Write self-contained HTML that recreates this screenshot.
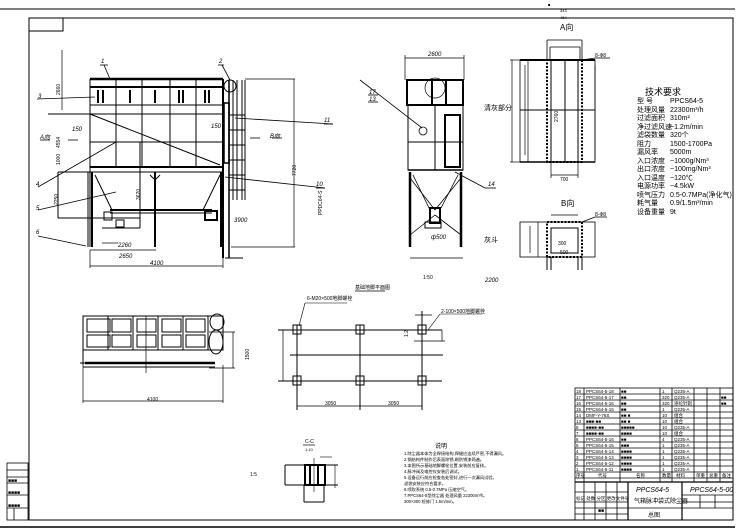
<!DOCTYPE html>
<html><head><meta charset="utf-8"><style>
html,body{margin:0;padding:0;background:#fff}
svg{display:block}
text{font-family:"Liberation Sans","Noto Sans CJK SC",sans-serif;fill:#000}
</style></head><body>
<svg width="749" height="530" viewBox="0 0 749 530" xmlns="http://www.w3.org/2000/svg" stroke="#000" fill="none" stroke-width="1">
<!-- frame -->
<line x1="0" y1="9" x2="735" y2="9"/>
<rect x="29" y="18" width="704" height="502"/>
<line x1="0" y1="527" x2="735" y2="527" stroke-width="1.5"/>
<rect x="29" y="18" width="34" height="13"/>
<g stroke-width="0.8">
<rect x="7" y="463" width="21" height="57"/>
<line x1="7" y1="470" x2="28" y2="470"/><line x1="7" y1="477" x2="28" y2="477"/>
<line x1="7" y1="483" x2="28" y2="483"/><line x1="7" y1="495" x2="28" y2="495"/>
<line x1="7" y1="508" x2="28" y2="508"/><line x1="14" y1="508" x2="14" y2="520"/>
</g>
<text x="8" y="482" font-size="5" stroke="none">■■■</text>
<text x="8" y="494" font-size="5" stroke="none">■■■■</text>
<text x="8" y="507" font-size="5" stroke="none">■■■■</text>
<text x="548" y="6" font-size="4" stroke="none">■</text>
<text x="560" y="12" font-size="4" stroke="none">343</text>
<text x="560" y="19" font-size="4" stroke="none">464</text>

<!-- MAIN ELEVATION -->
<g stroke-width="1">
<line x1="90" y1="79" x2="223" y2="79" stroke-width="2.5"/>
<line x1="90" y1="87" x2="223" y2="87" stroke-width="2"/>
<line x1="90" y1="79" x2="90" y2="247"/>
<line x1="223" y1="79" x2="223" y2="258" stroke-width="2"/>
<line x1="90" y1="105" x2="223" y2="105"/>
<line x1="48" y1="114" x2="223" y2="114"/>
<line x1="90" y1="167" x2="223" y2="167" stroke-width="2"/>
<line x1="90" y1="142" x2="223" y2="142"/>
<line x1="58" y1="172" x2="223" y2="172"/>
<line x1="58" y1="172" x2="58" y2="218"/>
<line x1="58" y1="218" x2="140" y2="218"/>
<line x1="116" y1="79" x2="116" y2="167"/><line x1="142" y1="79" x2="142" y2="167"/>
<line x1="170" y1="79" x2="170" y2="167"/><line x1="196" y1="79" x2="196" y2="167"/>
<line x1="90" y1="114" x2="220" y2="165"/>
<line x1="92" y1="172" x2="92" y2="247" stroke-width="2"/><line x1="88" y1="172" x2="88" y2="247"/>
<line x1="155" y1="172" x2="155" y2="247" stroke-width="2"/>
<line x1="221" y1="172" x2="221" y2="247" stroke-width="2"/>
<line x1="95" y1="175" x2="112" y2="210"/><line x1="220" y1="175" x2="203" y2="210"/>
<line x1="150" y1="175" x2="155" y2="180"/><line x1="160" y1="175" x2="155" y2="180"/>
<line x1="110" y1="210" x2="212" y2="210" stroke-width="2"/>
<line x1="110" y1="213" x2="212" y2="213"/>
<rect x="104" y="212" width="8" height="8"/><rect x="116" y="220" width="8" height="7"/>
<rect x="205" y="211" width="12" height="9" stroke-width="2"/>
<line x1="140" y1="142" x2="140" y2="228"/>
<line x1="102" y1="228" x2="140" y2="228"/>
<!-- filters -->
<g stroke-width="2">
<line x1="98" y1="90" x2="98" y2="103"/><line x1="103" y1="90" x2="103" y2="103"/>
<line x1="130" y1="90" x2="130" y2="103"/>
<line x1="155" y1="90" x2="155" y2="103"/>
<line x1="179" y1="90" x2="179" y2="103"/><line x1="183" y1="90" x2="183" y2="103"/>
<line x1="205" y1="90" x2="205" y2="103"/><line x1="209" y1="90" x2="209" y2="103"/>
</g>
<circle cx="230" cy="86" r="6"/>
<!-- ladder -->
<rect x="224" y="103" width="5" height="60" stroke-width="1.5"/>
<line x1="229" y1="80" x2="229" y2="258" stroke-width="1.5"/>
<line x1="233" y1="80" x2="233" y2="200"/><line x1="237" y1="80" x2="237" y2="200"/>
<line x1="242" y1="80" x2="242" y2="200"/>
<line x1="245" y1="80" x2="245" y2="200"/>
<line x1="229" y1="115" x2="245" y2="115"/><line x1="229" y1="130" x2="245" y2="130"/>
<line x1="229" y1="145" x2="245" y2="145"/><line x1="229" y1="160" x2="245" y2="160"/>
<line x1="229" y1="175" x2="245" y2="175"/><line x1="229" y1="190" x2="245" y2="190"/>
<line x1="225" y1="258" x2="243" y2="258"/>
<!-- dims -->
<line x1="245" y1="79" x2="295" y2="79" stroke-width="0.7"/>
<line x1="231" y1="247" x2="295" y2="247" stroke-width="0.7"/>
<line x1="294" y1="79" x2="294" y2="247" stroke-width="0.7"/>
<line x1="62" y1="50" x2="62" y2="110" stroke-width="0.7"/>
<line x1="90" y1="250" x2="156" y2="250" stroke-width="0.7"/>
<line x1="90" y1="266" x2="223" y2="266" stroke-width="0.7"/>
<line x1="90" y1="250" x2="90" y2="268" stroke-width="0.7"/>
<line x1="223" y1="250" x2="223" y2="268" stroke-width="0.7"/>
<line x1="102" y1="243" x2="118" y2="243" stroke-width="0.7"/>
<!-- leaders -->
<g stroke-width="0.8">
<line x1="100" y1="65" x2="108" y2="65"/><line x1="104" y1="65" x2="110" y2="79"/>
<line x1="218" y1="65" x2="224" y2="65"/><line x1="222" y1="65" x2="230" y2="80"/>
<line x1="37" y1="99" x2="95" y2="97"/>
<line x1="235" y1="118" x2="333" y2="124"/><line x1="324" y1="124" x2="333" y2="124"/>
<line x1="38" y1="187" x2="116" y2="142"/>
<line x1="38" y1="210" x2="116" y2="192"/>
<line x1="38" y1="236" x2="86" y2="246"/>
<line x1="225" y1="177" x2="325" y2="188"/><line x1="316" y1="188" x2="325" y2="188"/>
<line x1="40" y1="140" x2="50" y2="140"/><line x1="68" y1="140" x2="78" y2="140"/>
<line x1="250" y1="138" x2="260" y2="138"/><line x1="272" y1="138" x2="282" y2="138"/>
</g>
</g>
<g font-size="6" stroke="none" font-style="italic">
<text x="101" y="63">1</text><text x="219" y="63">2</text><text x="38" y="98">3</text>
<text x="36" y="186">4</text><text x="36" y="210">5</text><text x="36" y="234">6</text>
<text x="324" y="122">11</text><text x="316" y="186">10</text>
<text x="40" y="139">A向</text><text x="270" y="138">B向</text>
<text x="72" y="131">150</text><text x="211" y="128">150</text>
<text x="119" y="258">2650</text><text x="150" y="265">4100</text>
<text x="234" y="222">3900</text><text x="118" y="247">2260</text>
</g>
<g font-size="5" stroke="none">
<text transform="translate(60,95) rotate(-90)">2660</text>
<text transform="translate(60,148) rotate(-90)">4554</text>
<text transform="translate(60,165) rotate(-90)">1000</text>
<text transform="translate(58,205) rotate(-90)">2250</text>
<text transform="translate(140,200) rotate(-90)">3620</text>
<text transform="translate(296,176) rotate(-90)">7720</text>
<text transform="translate(322,215) rotate(-90)">PPDC64-S</text>
</g>

<!-- SIDE VIEW -->
<g>
<line x1="405" y1="58" x2="464" y2="58" stroke-width="0.7"/>
<line x1="405" y1="55" x2="405" y2="80" stroke-width="0.7"/>
<line x1="464" y1="55" x2="464" y2="80" stroke-width="0.7"/>
<rect x="407" y="80" width="56" height="25" stroke-width="2"/>
<circle cx="435" cy="88" r="10" stroke-width="0.7"/>
<line x1="432" y1="80" x2="432" y2="105" stroke-width="2"/><line x1="446" y1="80" x2="446" y2="105" stroke-width="2"/>
<rect x="408" y="105" width="55" height="65"/>
<line x1="408" y1="142" x2="463" y2="142"/>
<line x1="435" y1="105" x2="435" y2="170"/>
<rect x="445" y="115" width="15" height="52" stroke-width="2"/>
<line x1="408" y1="170" x2="463" y2="170" stroke-width="1.5"/>
<line x1="410" y1="172" x2="410" y2="247" stroke-width="2.5"/>
<line x1="461" y1="172" x2="461" y2="247" stroke-width="2.5"/>
<line x1="410" y1="178" x2="435" y2="210" stroke-width="0.8"/><line x1="461" y1="178" x2="435" y2="210" stroke-width="0.8"/>
<line x1="410" y1="235" x2="435" y2="215" stroke-width="0.8"/><line x1="461" y1="235" x2="435" y2="215" stroke-width="0.8"/>
<line x1="413" y1="175" x2="430" y2="210" stroke-width="0.8"/><line x1="458" y1="175" x2="440" y2="210" stroke-width="0.8"/>
<rect x="430" y="208" width="10" height="15" stroke-width="2"/>
<rect x="425" y="222" width="16" height="6"/>
<line x1="410" y1="258" x2="463" y2="258" stroke-width="0.7"/>
<line x1="360" y1="80" x2="422" y2="128" stroke-width="0.8"/>
<circle cx="423" cy="131" r="4" stroke-width="0.8"/>
<line x1="455" y1="172" x2="485" y2="188" stroke-width="0.8"/><line x1="485" y1="188" x2="496" y2="188" stroke-width="0.8"/>
<line x1="368" y1="95" x2="378" y2="95" stroke-width="0.8"/><line x1="368" y1="102" x2="378" y2="102" stroke-width="0.8"/>
</g>
<g font-size="6" stroke="none" font-style="italic">
<text x="428" y="56">2600</text><text x="369" y="94">17</text><text x="369" y="101">13</text>
<text x="488" y="186">14</text><text x="431" y="239">ф500</text><text x="485" y="282">2200</text>
</g>
<text x="484" y="110" font-size="7" stroke="none">清灰部分</text>
<text x="484" y="242" font-size="7" stroke="none">灰斗</text>

<!-- PLAN A -->
<g>
<text x="560" y="30" font-size="8" stroke="none">A向</text>
<line x1="547" y1="40" x2="582" y2="40" stroke-width="0.8"/>
<line x1="547" y1="40" x2="547" y2="60" stroke-width="0.8"/><line x1="582" y1="40" x2="582" y2="60" stroke-width="0.8"/>
<line x1="550" y1="47" x2="580" y2="47" stroke-width="0.8"/>
<line x1="550" y1="47" x2="550" y2="60" stroke-width="0.8"/><line x1="580" y1="47" x2="580" y2="60" stroke-width="0.8"/>
<rect x="520" y="60" width="75" height="102" stroke-width="0.8"/>
<line x1="520" y1="60" x2="595" y2="60" stroke-width="2"/>
<line x1="520" y1="162" x2="595" y2="162" stroke-width="1.5"/>
<rect x="547" y="60" width="35" height="102" stroke-width="2" stroke-dasharray="2,1.5"/>
<rect x="551" y="60" width="27" height="102"/>
<line x1="565" y1="60" x2="565" y2="162"/><line x1="520" y1="110" x2="595" y2="110"/>
<line x1="528" y1="60" x2="528" y2="162" stroke-width="0.7"/>
<line x1="525" y1="65" x2="525" y2="155" stroke-width="0.7"/>
<line x1="595" y1="65" x2="595" y2="160" stroke-width="0.7"/>
<line x1="520" y1="60" x2="510" y2="60" stroke-width="0.7"/><line x1="520" y1="162" x2="510" y2="162" stroke-width="0.7"/>
<line x1="512" y1="60" x2="512" y2="162" stroke-width="0.7"/>
<line x1="582" y1="60" x2="595" y2="58" stroke-width="0.8"/><line x1="595" y1="58" x2="610" y2="58" stroke-width="0.8"/>
<line x1="551" y1="175" x2="578" y2="175" stroke-width="0.8"/>
<line x1="551" y1="162" x2="551" y2="178" stroke-width="0.7"/><line x1="578" y1="162" x2="578" y2="178" stroke-width="0.7"/>
</g>
<g font-size="5" stroke="none">
<text x="595" y="57">8-Ф8</text><text x="560" y="181">700</text>
<text transform="translate(558,122) rotate(-90)">2760</text>
</g>
<!-- PLAN B -->
<g>
<text x="561" y="206" font-size="8" stroke="none">B向</text>
<line x1="551" y1="215" x2="578" y2="215" stroke-width="0.8"/>
<rect x="520" y="222" width="75" height="35" stroke-width="0.8"/>
<rect x="547" y="222" width="35" height="35" stroke-width="2" stroke-dasharray="2,1.5"/>
<rect x="551" y="228" width="27" height="25"/>
<line x1="551" y1="257" x2="551" y2="270"/><line x1="578" y1="257" x2="578" y2="270"/>
<line x1="547" y1="257" x2="547" y2="270"/><line x1="582" y1="257" x2="582" y2="270"/>
<line x1="538" y1="222" x2="538" y2="257" stroke-width="0.7"/>
<line x1="530" y1="226" x2="530" y2="253" stroke-width="0.7"/>
<line x1="582" y1="222" x2="595" y2="217" stroke-width="0.8"/><line x1="595" y1="217" x2="607" y2="217" stroke-width="0.8"/>
</g>
<g font-size="5" stroke="none"><text x="558" y="245">300</text><text x="560" y="254">500</text><text x="595" y="216">8-Ф8</text></g>

<!-- TECH -->
<g stroke="none" font-size="7">
<text x="645" y="95" font-size="9">技术要求</text>
<text x="637" y="103">型 号</text><text x="670" y="103">PPCS64-5</text>
<text x="637" y="112">处理风量</text><text x="670" y="112">22300m³/h</text>
<text x="637" y="120">过滤面积</text><text x="670" y="120">310m²</text>
<text x="637" y="129">净过滤风速</text><text x="670" y="129">~1.2m/min</text>
<text x="637" y="137">滤袋数量</text><text x="670" y="137">320个</text>
<text x="637" y="146">阻力</text><text x="670" y="146">1500-1700Pa</text>
<text x="637" y="154">漏风率</text><text x="670" y="154">5000m</text>
<text x="637" y="163">入口浓度</text><text x="670" y="163">~1000g/Nm³</text>
<text x="637" y="171">出口浓度</text><text x="670" y="171">~100mg/Nm³</text>
<text x="637" y="180">入口温度</text><text x="670" y="180">~120℃</text>
<text x="637" y="188">电源功率</text><text x="670" y="188">~4.5kW</text>
<text x="637" y="197">喷气压力</text><text x="670" y="197">0.5-0.7MPa(净化气)</text>
<text x="637" y="205">耗气量</text><text x="670" y="205">0.9/1.5m³/min</text>
<text x="637" y="214">设备重量</text><text x="670" y="214">9t</text>
</g>

<!-- BOTTOM LEFT PLAN -->
<g>
<rect x="83" y="316" width="140" height="34"/>
<g stroke-width="1">
<rect x="87" y="319" width="23" height="13"/><rect x="112" y="319" width="19" height="13"/><rect x="137" y="319" width="19" height="13"/><rect x="162" y="319" width="19" height="13"/><rect x="186" y="319" width="19" height="13"/>
<rect x="87" y="335" width="23" height="12"/><rect x="112" y="335" width="19" height="12"/><rect x="137" y="335" width="19" height="12"/><rect x="162" y="335" width="19" height="12"/><rect x="186" y="335" width="19" height="12"/>
</g>
<line x1="108" y1="316" x2="108" y2="350"/><line x1="133" y1="316" x2="133" y2="350"/><line x1="158" y1="316" x2="158" y2="350"/><line x1="183" y1="316" x2="183" y2="350"/><line x1="208" y1="316" x2="208" y2="350"/>
<ellipse cx="217" cy="322" rx="7" ry="8"/>
<ellipse cx="216" cy="342" rx="7" ry="12"/>
<line x1="83" y1="350" x2="83" y2="365"/>
<line x1="85" y1="363" x2="215" y2="363" stroke-width="2.5"/>
<line x1="80" y1="363" x2="215" y2="363"/>
<line x1="83" y1="367" x2="215" y2="367"/>
<line x1="146" y1="316" x2="146" y2="373" stroke-width="0.7"/>
<line x1="209" y1="332" x2="235" y2="332" stroke-width="0.7"/><line x1="209" y1="368" x2="235" y2="368" stroke-width="0.7"/>
<line x1="233" y1="332" x2="233" y2="368" stroke-width="0.7"/>
<line x1="83" y1="401" x2="223" y2="401" stroke-width="0.7"/>
<line x1="83" y1="365" x2="83" y2="403" stroke-width="0.7"/><line x1="223" y1="365" x2="223" y2="403" stroke-width="0.7"/>
</g>
<g font-size="5" stroke="none"><text x="147" y="401">4100</text><text transform="translate(249,360) rotate(-90)">1500</text></g>

<!-- FOUNDATION -->
<g>
<line x1="355" y1="291" x2="385" y2="291" stroke-width="0.8"/>
<text x="355" y="289" font-size="5" stroke="none">基础地脚平面图</text>
<text x="307" y="300" font-size="5" stroke="none">6-M20×500地脚螺栓</text>
<line x1="305" y1="303" x2="347" y2="303" stroke-width="0.6"/>
<line x1="305" y1="303" x2="299" y2="326" stroke-width="0.6"/>
<line x1="278" y1="330" x2="442" y2="330"/>
<line x1="278" y1="381" x2="442" y2="381"/>
<line x1="290" y1="355" x2="443" y2="355"/>
<line x1="297" y1="325" x2="297" y2="410"/><line x1="360" y1="325" x2="360" y2="410"/><line x1="422" y1="311" x2="422" y2="410"/>
<rect x="293" y="325" width="8" height="9"/><rect x="356" y="325" width="8" height="9"/><rect x="418" y="325" width="8" height="9"/>
<rect x="293" y="376" width="8" height="9"/><rect x="356" y="376" width="8" height="9"/><rect x="418" y="376" width="8" height="9"/>
<line x1="283" y1="330" x2="283" y2="381" stroke-width="0.7"/>
<line x1="297" y1="406" x2="422" y2="406" stroke-width="0.7"/>
<line x1="415" y1="315" x2="432" y2="315" stroke-width="0.7"/>
<line x1="414" y1="341" x2="445" y2="341" stroke-width="0.7"/>
<line x1="442" y1="330" x2="442" y2="341" stroke-width="0.7"/>
<line x1="428" y1="330" x2="440" y2="314" stroke-width="0.6"/><line x1="440" y1="314" x2="482" y2="314" stroke-width="0.6"/>
</g>
<g font-size="5" stroke="none"><text x="325" y="405">3050</text><text x="388" y="405">3050</text><text x="441" y="313">2-100×500地脚螺栓</text><text x="423" y="279">1:50</text><text transform="translate(408,337) rotate(-90)">1:2</text></g>

<!-- SECTION C-C -->
<g>
<text x="305" y="443" font-size="5" stroke="none">C-C</text>
<line x1="303" y1="445" x2="315" y2="445" stroke-width="0.7"/>
<text x="305" y="451" font-size="4" stroke="none">1:10</text>
<line x1="285" y1="465" x2="338" y2="465"/><line x1="285" y1="485" x2="338" y2="485"/>
<line x1="285" y1="465" x2="285" y2="485"/>
<rect x="305" y="465" width="20" height="20" stroke-width="2"/>
<line x1="310" y1="465" x2="310" y2="485" stroke-width="2"/><line x1="318" y1="465" x2="318" y2="485" stroke-width="2"/>
<line x1="304" y1="485" x2="304" y2="502"/><line x1="324" y1="485" x2="324" y2="502"/><line x1="304" y1="502" x2="324" y2="502"/>
<line x1="314" y1="458" x2="314" y2="492" stroke-width="0.6"/>
<line x1="320" y1="457" x2="332" y2="457" stroke-width="0.6"/>
<line x1="335" y1="465" x2="335" y2="488" stroke-width="0.6"/>
</g>
<text x="250" y="476" font-size="5" stroke="none">1:5</text>
<!-- notes -->
<g font-size="4.2" stroke="none">
<text x="435" y="448" font-size="6">说明</text>
<text x="404" y="455">1.除尘器本体为全焊接结构,焊缝应连续严密,不得漏风。</text>
<text x="404" y="461">2.钢结构件制作后表面除锈,刷防锈漆两遍。</text>
<text x="404" y="467">3.本图所示基础地脚螺栓位置,安装前应复核。</text>
<text x="404" y="473">4.脉冲阀及电控仪安装后调试。</text>
<text x="404" y="479">5.设备运行前应检查各处密封,进行一次漏风试验。</text>
<text x="404" y="485">  滤袋安装应符合要求。</text>
<text x="404" y="491">6.喷吹系统 0.5-0.7MPa 压缩空气。</text>
<text x="404" y="497">7.PPCS64-5型除尘器 处理风量 22300m³/h。</text>
<text x="404" y="503">   300×300 检修门 1.5m/min。</text>
</g>

<!-- TITLE BLOCK -->
<g stroke-width="0.8">
<line x1="733" y1="18" x2="733" y2="390"/>
<rect x="575" y="388" width="158" height="132"/>
<line x1="584" y1="388" x2="584" y2="482"/>
<line x1="620" y1="388" x2="620" y2="482"/>
<line x1="660" y1="388" x2="660" y2="482"/>
<line x1="672" y1="388" x2="672" y2="482"/>
<line x1="694" y1="388" x2="694" y2="482"/>
<line x1="707" y1="388" x2="707" y2="482"/>
<line x1="720" y1="388" x2="720" y2="482"/>
<g id="rows">
<line x1="575" y1="394" x2="733" y2="394"/><line x1="575" y1="400" x2="733" y2="400"/>
<line x1="575" y1="406" x2="733" y2="406"/><line x1="575" y1="412" x2="733" y2="412"/>
<line x1="575" y1="418" x2="733" y2="418"/><line x1="575" y1="424" x2="733" y2="424"/>
<line x1="575" y1="430" x2="733" y2="430"/><line x1="575" y1="436" x2="733" y2="436"/>
<line x1="575" y1="442" x2="733" y2="442"/><line x1="575" y1="448" x2="733" y2="448"/>
<line x1="575" y1="454" x2="733" y2="454"/><line x1="575" y1="460" x2="733" y2="460"/>
<line x1="575" y1="466" x2="733" y2="466"/><line x1="575" y1="472" x2="733" y2="472"/>
<line x1="575" y1="478" x2="733" y2="478"/>
</g>
<line x1="575" y1="482" x2="733" y2="482" stroke-width="1.2"/>
<line x1="628" y1="482" x2="628" y2="520" stroke-width="1.2"/>
<line x1="682" y1="482" x2="682" y2="520" stroke-width="1.2"/>
<line x1="628" y1="508" x2="682" y2="508"/>
<line x1="575" y1="492" x2="628" y2="492"/><line x1="575" y1="502" x2="628" y2="502"/>
<line x1="575" y1="508" x2="628" y2="508"/><line x1="575" y1="514" x2="628" y2="514"/>
<line x1="584" y1="482" x2="584" y2="520"/><line x1="595" y1="482" x2="595" y2="520"/>
<line x1="606" y1="482" x2="606" y2="520"/><line x1="617" y1="482" x2="617" y2="520"/>
<line x1="682" y1="495" x2="733" y2="495"/><line x1="682" y1="502" x2="733" y2="502"/><line x1="682" y1="508" x2="733" y2="508"/>
<line x1="700" y1="495" x2="700" y2="508"/><line x1="715" y1="495" x2="715" y2="508"/>
</g>
<g font-size="4.5" stroke="none">
<text x="576" y="393">18</text><text x="586" y="393">PPCS64-5-18</text><text x="621" y="393">■■</text><text x="662" y="393">1</text><text x="674" y="393">Q235-A</text>
<text x="576" y="399">17</text><text x="586" y="399">PPCS64-5-17</text><text x="621" y="399">■■</text><text x="662" y="399">320</text><text x="674" y="399">Q235-A</text><text x="721" y="399">■■</text>
<text x="576" y="405">16</text><text x="586" y="405">PPCS64-5-16</text><text x="621" y="405">■■</text><text x="662" y="405">320</text><text x="674" y="405">涤纶针刺</text><text x="721" y="405">■■</text>
<text x="576" y="411">15</text><text x="586" y="411">PPCS64-5-15</text><text x="621" y="411">■■</text><text x="662" y="411">1</text><text x="674" y="411">Q235-A</text>
<text x="576" y="417">14</text><text x="586" y="417">DMF-Y-76S</text><text x="621" y="417">■■ ■</text><text x="662" y="417">10</text><text x="674" y="417">组合</text>
<text x="576" y="423">13</text><text x="586" y="423">■■■-■■</text><text x="621" y="423">■■ ■</text><text x="662" y="423">10</text><text x="674" y="423">组合</text>
<text x="576" y="429">8</text><text x="586" y="429">■■■■-■■</text><text x="621" y="429">■■■■■</text><text x="662" y="429">10</text><text x="674" y="429">Q235-A</text>
<text x="576" y="435">7</text><text x="586" y="435">■■■■-■■</text><text x="621" y="435">■■■■</text><text x="662" y="435">10</text><text x="674" y="435">组合</text>
<text x="576" y="441">6</text><text x="586" y="441">PPCS64-5-16</text><text x="621" y="441">■■</text><text x="662" y="441">4</text><text x="674" y="441">Q235-A</text>
<text x="576" y="447">5</text><text x="586" y="447">PPCS64-5-15</text><text x="621" y="447">■■■</text><text x="662" y="447">1</text><text x="674" y="447">Q235-A</text>
<text x="576" y="453">4</text><text x="586" y="453">PPCS64-5-14</text><text x="621" y="453">■■■■</text><text x="662" y="453">1</text><text x="674" y="453">Q235-A</text>
<text x="576" y="459">3</text><text x="586" y="459">PPCS64-5-13</text><text x="621" y="459">■■■■</text><text x="662" y="459">1</text><text x="674" y="459">Q235-A</text>
<text x="576" y="465">2</text><text x="586" y="465">PPCS64-5-12</text><text x="621" y="465">■■■■</text><text x="662" y="465">1</text><text x="674" y="465">Q235-A</text>
<text x="576" y="471">1</text><text x="586" y="471">PPCS64-5-11</text><text x="621" y="471">■■■■</text><text x="662" y="471">1</text><text x="674" y="471">Q235-A</text>
<text x="576" y="477">序号</text><text x="598" y="477">代号</text><text x="636" y="477">名称</text><text x="662" y="477">数量</text><text x="676" y="477">材料</text><text x="696" y="477">单重</text><text x="709" y="477">总重</text><text x="722" y="477">备注</text>
</g>
<text x="636" y="492" font-size="7" font-style="italic" stroke="none">PPCS64-5</text>
<text x="634" y="503" font-size="6" stroke="none">气箱脉冲袋式除尘器</text>
<text x="648" y="517" font-size="6" stroke="none">总图</text>
<text x="690" y="492" font-size="7" font-style="italic" stroke="none">PPCS64-5-00</text>
<text x="576" y="500" font-size="4.5" stroke="none">标记 处数 分区 更改文件号</text>
<text x="598" y="512" font-size="5" stroke="none">■■</text>
</svg>
</body></html>
